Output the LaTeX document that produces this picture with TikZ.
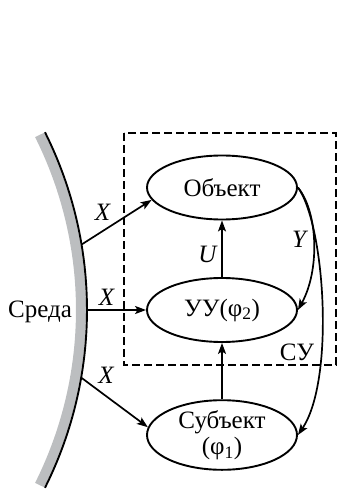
\documentclass[tikz,border=0pt]{standalone}
\usepackage{fontspec}
\setmainfont{Liberation Serif}
\usetikzlibrary{shapes.geometric,arrows.meta}
\definecolor{envgray}{RGB}{188,190,192}
\begin{document}
\begin{tikzpicture}[x=1pt,y=1pt,
  blob/.style={ellipse,draw,line width=1.9pt,minimum width=150pt,minimum height=64pt,inner sep=0pt,align=center,font=\fontsize{25}{26}\selectfont},
  arr/.style={line width=1.7pt,-{Stealth[length=11pt,width=8pt,inset=2.5pt]}},
  lbl/.style={font=\fontsize{25}{26}\selectfont\itshape,inner sep=0pt},
  txt/.style={font=\fontsize{25}{26}\selectfont,inner sep=0pt},
  frame/.style={line width=1.7pt,dash pattern=on 8pt off 4pt}]
\useasboundingbox (0,0) rectangle (339,-489);
% environment arc
\draw[line width=10pt,envgray] (-310,-310) ++(-26.6:391) arc[start angle=-26.6,end angle=26.6,radius=391pt];
\draw[line width=1.9pt] (-310,-310) ++(-26.6:397) arc[start angle=-26.6,end angle=26.6,radius=397pt];
% frame
\draw[frame] (124,-133) rectangle (336,-365);
% nodes
\node[blob] (obj) at (222,-187.5) {Объект};
\node[blob] (uu) at (222,-310) {УУ(φ\textsubscript{2})};
\node[blob] (sub) at (222,-435) {Субъект\\(φ\textsubscript{1})};
\node[txt] (env) at (40,-312) {Среда};
\node[txt] (su) at (297,-352) {СУ};
\coordinate (e1) at (81.6,-244.5);
\coordinate (e2) at (87,-310);
\coordinate (e3) at (81.2,-377.6);
% connectors
\draw[arr] (e1) -- (obj.190);
\draw[arr] (e2) -- (uu.west);
\draw[arr] (e3) -- (sub.174);
\draw[arr] (uu.north) -- (obj.south);
\draw[arr] (sub.north) -- (uu.south);
\draw[arr] (obj.east) .. controls (318,-212) and (320,-270) .. (uu.east);
\draw[arr] (obj.east) .. controls (325,-225) and (335,-380) .. (sub.east);
% labels
\node[lbl] (x1) at (102.5,-212) {X};
\node[lbl] (x2) at (106.5,-297) {X};
\node[lbl] (x3) at (106,-375) {X};
\node[lbl] (u) at (207.5,-254) {U};
\node[lbl] (y) at (299,-239) {Y};
\end{tikzpicture}
\end{document}
